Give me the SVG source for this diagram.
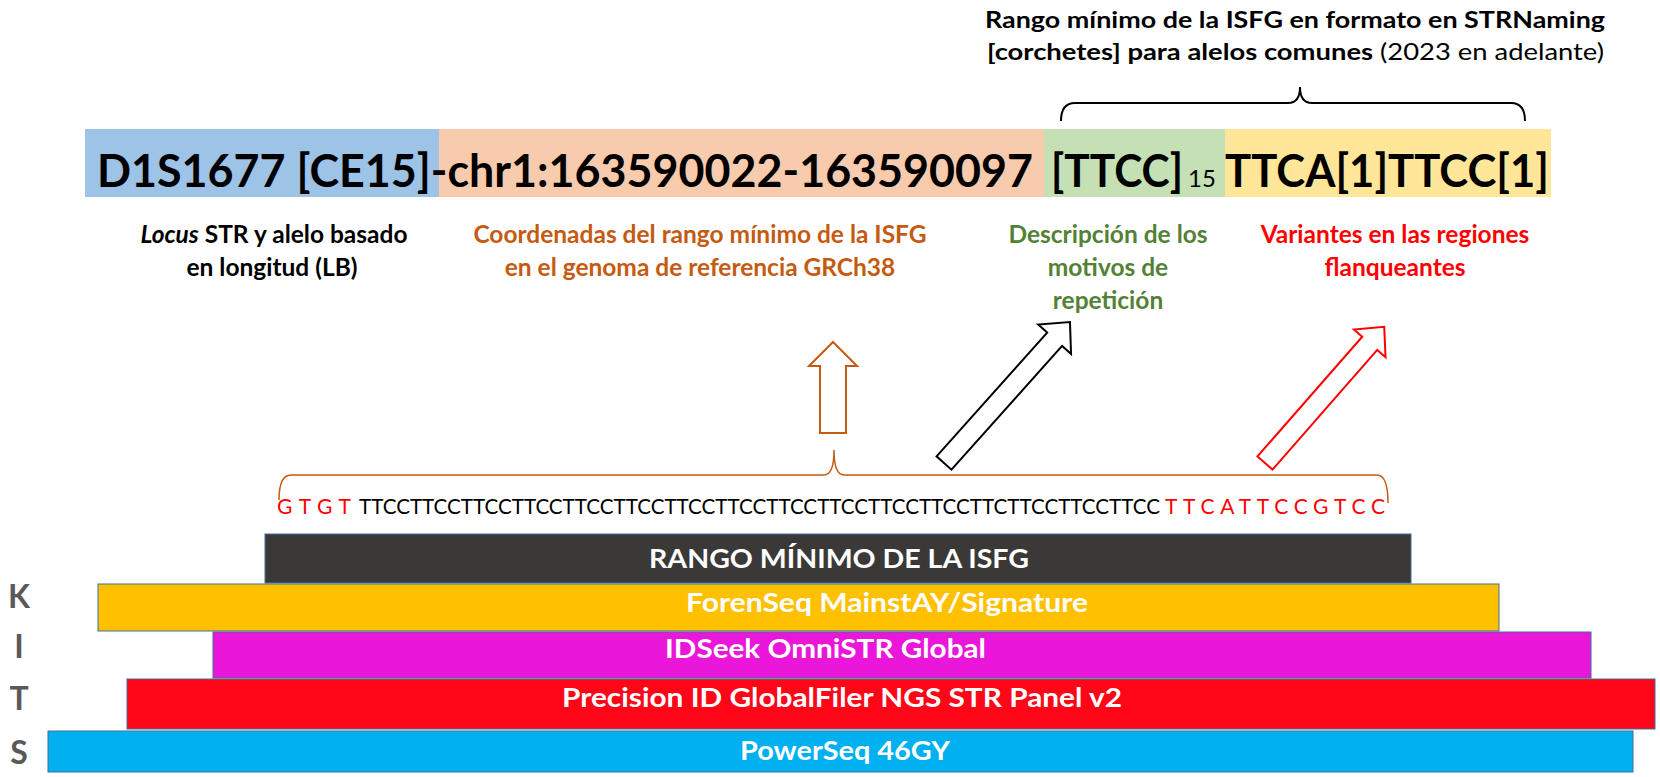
<svg xmlns="http://www.w3.org/2000/svg" width="1660" height="777" viewBox="0 0 1660 777">
<style>
text { font-family: Lato, "Open Sans", "Liberation Sans", sans-serif; }
.big { font-size: 45px; font-weight: 700; fill: #000; }
.ttl { font-size: 23px; fill: #000; }
.lbl { font-size: 24.5px; font-weight: 700; text-anchor: middle; }
.seq { font-size: 21px; }
.kit { font-size: 27px; font-weight: 700; fill: #fff; }
.kits { font-size: 32px; font-weight: 700; fill: #595959; text-anchor: middle; }
.bar { stroke: #41719C; stroke-width: 1; }
.arrow { fill: #fff; stroke-width: 2; stroke-linejoin: miter; }
</style>
<rect width="1660" height="777" fill="#fff"/>

<g id="title">
  <text class="ttl" x="985" y="28" font-weight="700" textLength="620" lengthAdjust="spacingAndGlyphs">Rango mínimo de la ISFG en formato en STRNaming</text>
  <text class="ttl" x="987" y="60" textLength="617" lengthAdjust="spacingAndGlyphs"><tspan font-weight="700">[corchetes] para alelos comunes</tspan> (2023 en adelante)</text>
</g>

<g id="allele-bar">
  <rect x="85" y="129" width="354" height="68" fill="#9DC3E6"/>
  <rect x="439" y="129" width="605" height="68" fill="#F8CBAD"/>
  <rect x="1044" y="129" width="181" height="68" fill="#C5E0B4"/>
  <rect x="1225" y="129" width="326" height="68" fill="#FFE699"/>
  <text class="big" x="97" y="187" textLength="936" lengthAdjust="spacingAndGlyphs">D1S1677 [CE15]-chr1:163590022-163590097</text>
  <text class="big" x="1051" y="187" textLength="132" lengthAdjust="spacingAndGlyphs">[TTCC]</text>
  <text x="1188" y="187" font-size="24" fill="#000">15</text>
  <text class="big" x="1225" y="187" textLength="324" lengthAdjust="spacingAndGlyphs">TTCA[1]TTCC[1]</text>
</g>

<g id="label-locus">
  <text class="lbl" x="274" y="243" fill="#000"><tspan font-style="italic">Locus</tspan> STR y alelo basado</text>
  <text class="lbl" x="272" y="276" fill="#000">en longitud (LB)</text>
</g>
<g id="label-coords">
  <text class="lbl" x="700" y="243" fill="#C55A11">Coordenadas del rango mínimo de la ISFG</text>
  <text class="lbl" x="700" y="276" fill="#C55A11">en el genoma de referencia GRCh38</text>
</g>
<g id="label-motifs">
  <text class="lbl" x="1108" y="243" fill="#538135">Descripción de los</text>
  <text class="lbl" x="1108" y="276" fill="#538135">motivos de</text>
  <text class="lbl" x="1108" y="309" fill="#538135">repetición</text>
</g>
<g id="label-variants">
  <text class="lbl" x="1395" y="243" fill="#FF0000">Variantes en las regiones</text>
  <text class="lbl" x="1395" y="276" fill="#FF0000">flanqueantes</text>
</g>

<g id="connectors" fill="none">
  <path d="M1061,121 Q1061,103 1075,103 L1288,103 Q1300,103 1300,87 Q1300,103 1312,103 L1511,103 Q1525,103 1525,121" stroke="#000" stroke-width="2"/>
  <path d="M279,500 Q279,475 291,475 L824,475 Q834,475 834,450 Q834,475 844,475 L1377,475 Q1388,475 1388,503" stroke="#C55A11" stroke-width="1.5"/>
  <path class="arrow" d="M833,342 L857,366 L846,366 L846,433 L820,433 L820,366 L809,366 Z" stroke="#C55A11" stroke-width="1.5"/>
  <path class="arrow" transform="translate(944,463) rotate(-48.2)" d="M0,-10 L166,-10 L166,-22 L189,0 L166,22 L166,10 L0,10 Z" stroke="#000"/>
  <path class="arrow" transform="translate(1265,463) rotate(-48.8)" d="M0,-10 L159,-10 L159,-21 L181,0 L159,21 L159,10 L0,10 Z" stroke="#FF0000"/>
</g>

<g id="sequence">
  <text class="seq" x="277" y="514" fill="#FF0000" textLength="74">GTGT</text>
  <text class="seq" x="359" y="514" fill="#000" textLength="801" lengthAdjust="spacingAndGlyphs">TTCCTTCCTTCCTTCCTTCCTTCCTTCCTTCCTTCCTTCCTTCCTTCCTTCTTCCTTCCTTCC</text>
  <text class="seq" x="1165" y="514" fill="#FF0000" textLength="220">TTCATTCCGTCC</text>
</g>

<g id="kit-rango">
  <rect class="bar" x="265" y="534" width="1146" height="49" fill="#3B3838"/>
  <text class="kit" x="649" y="568" textLength="380" lengthAdjust="spacingAndGlyphs">RANGO MÍNIMO DE LA ISFG</text>
</g>
<g id="kit-forenseq">
  <rect class="bar" x="98" y="584" width="1401" height="47" fill="#FFC000"/>
  <text class="kit" x="686" y="612" textLength="402" lengthAdjust="spacingAndGlyphs">ForenSeq MainstAY/Signature</text>
</g>
<g id="kit-idseek">
  <rect class="bar" x="213" y="632" width="1378" height="46" fill="#EA16D9"/>
  <text class="kit" x="665" y="658" textLength="321" lengthAdjust="spacingAndGlyphs">IDSeek OmniSTR Global</text>
</g>
<g id="kit-precision">
  <rect class="bar" x="127" y="679" width="1528" height="50" fill="#FF0518"/>
  <text class="kit" x="562" y="707" textLength="560" lengthAdjust="spacingAndGlyphs">Precision ID GlobalFiler NGS STR Panel v2</text>
</g>
<g id="kit-powerseq">
  <rect class="bar" x="48" y="731" width="1585" height="41" fill="#00B0F0"/>
  <text class="kit" x="740" y="760" textLength="210" lengthAdjust="spacingAndGlyphs">PowerSeq 46GY</text>
</g>

<g id="kits-label">
  <text class="kits" x="19" y="608">K</text>
  <text class="kits" x="19" y="658">I</text>
  <text class="kits" x="19" y="710">T</text>
  <text class="kits" x="19" y="764">S</text>
</g>
</svg>
